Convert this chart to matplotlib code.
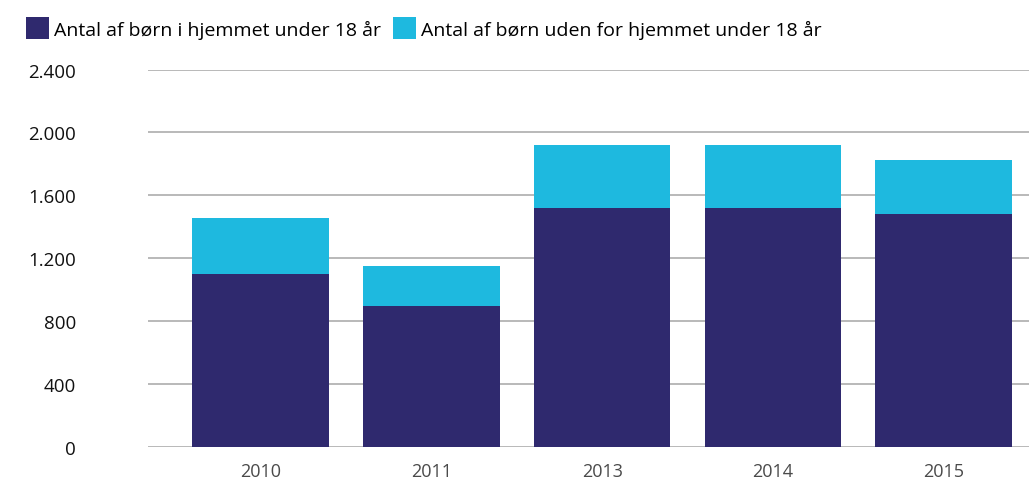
import matplotlib
matplotlib.use('Agg')
import matplotlib.pyplot as plt
from matplotlib.patches import Patch
from matplotlib.ticker import FuncFormatter

plt.rcParams['font.family'] = ['Open Sans', 'DejaVu Sans']

# Data
aar = ['2010', '2011', '2013', '2014', '2015']
i_hjemmet = [1100, 895, 1517, 1517, 1479]
uden_for_hjemmet = [355, 255, 400, 400, 343]
labels = ['Antal af børn i hjemmet under 18 år', 'Antal af børn uden for hjemmet under 18 år']
farver = ['#2f296e', '#1eb9df']

fig = plt.figure(figsize=(10.29, 4.81), dpi=100)
ax = fig.add_axes([148 / 1029, 1 - 448 / 481, 881 / 1029, 377.5 / 481])

x = range(len(aar))
ax.bar(x, i_hjemmet, width=0.8, color=farver[0], zorder=3)
ax.bar(x, uden_for_hjemmet, width=0.8, bottom=i_hjemmet, color=farver[1], zorder=3)

ax.set_xlim(-0.66, 4.5)
ax.set_ylim(0, 2400)
ax.set_yticks(range(0, 2401, 400))
ax.yaxis.set_major_formatter(FuncFormatter(lambda v, p: f'{int(v):,}'.replace(',', '.')))
ax.set_xticks(list(x))
ax.set_xticklabels(aar)
ax.grid(axis='y', color='#b3b3b3', linewidth=1.3, zorder=0)
for s in ax.spines.values():
    s.set_visible(False)
ax.tick_params(axis='y', length=0, pad=52, labelsize=13.5, labelcolor='#111111')
ax.tick_params(axis='x', length=0, pad=10.5, labelsize=13, labelcolor='#4a4a4a')

handles = [Patch(facecolor=c) for c in farver]
fig.legend(handles, labels, loc='upper left', bbox_to_anchor=(0.012, 0.99), ncol=2,
           frameon=False, fontsize=14, handlelength=1.2, handleheight=1.3,
           handletextpad=0.25, columnspacing=0.6, borderaxespad=0.3)

fig.savefig('out.png', dpi=100)
